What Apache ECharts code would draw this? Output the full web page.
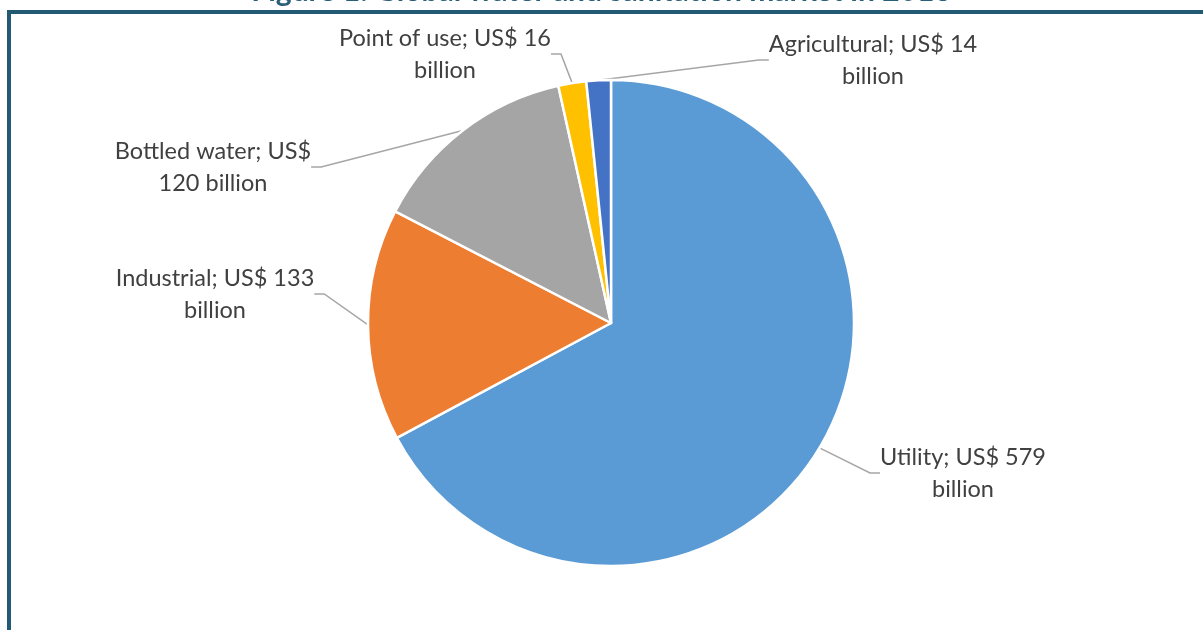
<!DOCTYPE html>
<html>
<head>
<meta charset="utf-8">
<script src="https://cdn.jsdelivr.net/npm/echarts@6/dist/echarts.min.js"></script>
<style>
  html, body { margin: 0; padding: 0; background: #ffffff; }
  #wrap { position: relative; width: 1203px; height: 630px; overflow: hidden; }
  #frame {
    position: absolute; left: 7px; top: 10px; width: 1300px; height: 700px;
    border-top: 4px solid #225a73; border-left: 4px solid #225a73;
    box-sizing: border-box;
  }
  #chart { position: absolute; left: 0; top: 0; width: 1203px; height: 630px; }
</style>
</head>
<body>
<div id="wrap">
  <div id="frame"></div>
  <div id="chart"></div>
</div>
<script>
// Global water and sanitation market, US$ billion
const categories = ['Utility', 'Industrial', 'Bottled water', 'Point of use', 'Agricultural'];
const values = [579, 133, 120, 16, 14];
const colors = ['#5b9bd5', '#ed7d31', '#a5a5a5', '#ffc000', '#4472c4'];

// Where each two-line label block is centred
const labelCentres = [[963, 473], [215, 294], [213, 167], [445, 54], [873, 60]];

const chart = echarts.init(document.getElementById('chart'), null, { renderer: 'canvas' });

chart.setOption({
  animation: false,
  backgroundColor: 'transparent',
  title: {
    text: 'Figure 1: Global water and sanitation market in 2016',
    left: 'center',
    top: -29,
    textStyle: { fontFamily: 'Lato', fontWeight: 'bold', fontSize: 30, color: '#2a5f78' }
  },
  series: [{
    type: 'pie',
    center: [611, 323],
    radius: 243,
    startAngle: 90,
    clockwise: true,
    avoidLabelOverlap: false,
    data: categories.map((name, i) => ({ name, value: values[i], itemStyle: { color: colors[i] } })),
    itemStyle: { borderColor: '#ffffff', borderWidth: 2.5 },
    label: {
      show: true,
      position: 'outside',
      fontFamily: 'Lato',
      fontSize: 23.5,
      lineHeight: 32,
      color: '#404040',
      formatter: p => p.name === 'Bottled water'
        ? p.name + '; US$\n' + p.value + ' billion'
        : p.name + '; US$ ' + p.value + '\nbillion'
    },
    labelLine: {
      show: true,
      length: 20,
      length2: 10,
      smooth: false,
      lineStyle: { color: '#a6a6a6', width: 1.5 }
    },
    labelLayout: p => {
      const c = labelCentres[p.dataIndex];
      return { x: c[0], y: c[1], align: 'center', verticalAlign: 'middle' };
    },
    emphasis: { disabled: true }
  }]
});
</script>
</body>
</html>
